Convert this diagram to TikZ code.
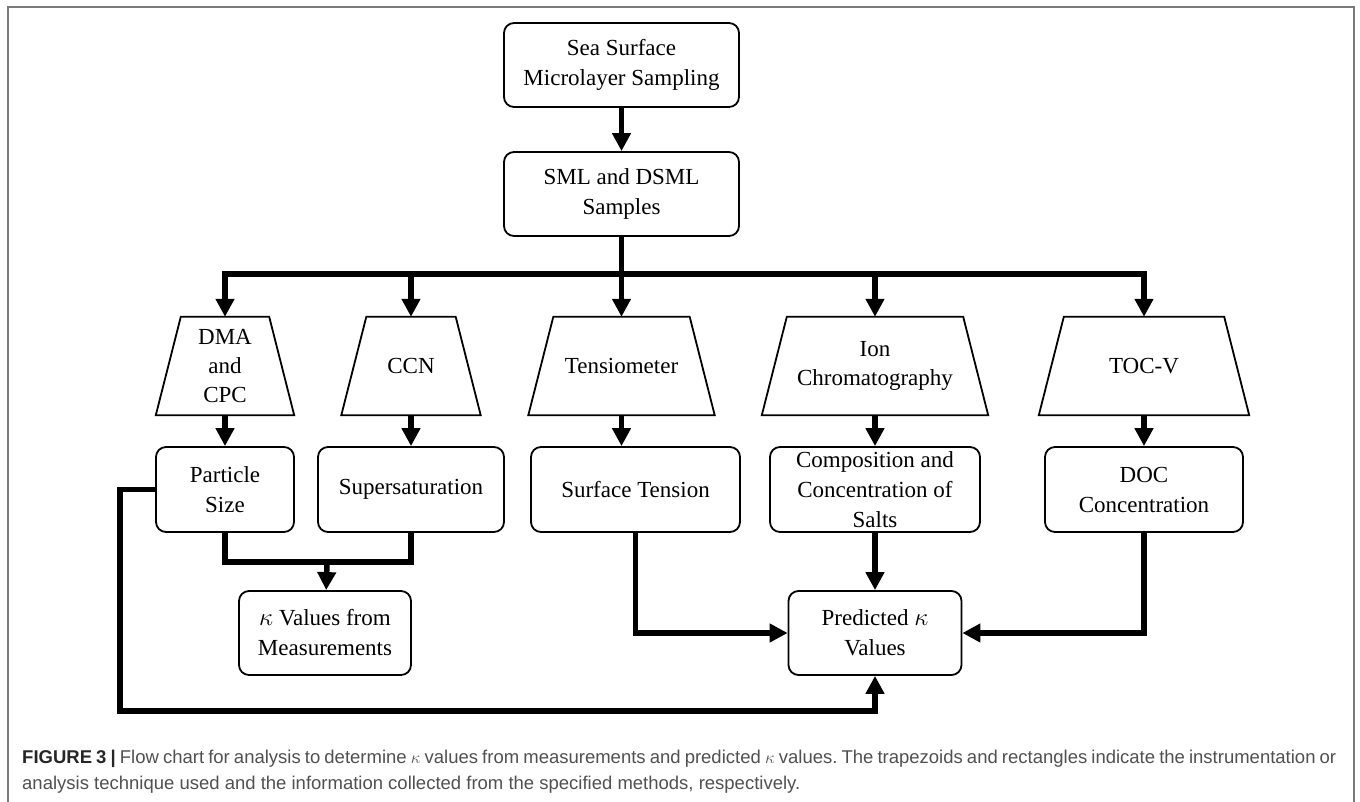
\documentclass[tikz,border=0pt]{standalone}
\usepackage{fontspec}
\setmainfont{Liberation Serif}
\newfontfamily\capfont{Liberation Sans}
\usepackage{tikz}
\usetikzlibrary{arrows.meta}
\definecolor{framegray}{HTML}{7A7A7A}
\definecolor{capgray}{HTML}{505050}
\definecolor{capdark}{HTML}{262626}
\tikzset{
	box/.style={draw,rounded corners=10pt,line width=1.8pt,align=center,inner sep=0pt,font=\fontsize{23}{30}\selectfont},
	trap/.style={align=center,inner sep=0pt,minimum height=98pt,font=\fontsize{23}{29}\selectfont},
	flow/.style={line width=5.5pt,-{Triangle[length=18pt,width=18pt]}},
	link/.style={line width=5.5pt}
}

\begin{document}
\begin{tikzpicture}[x=1pt,y=-1pt]
	\useasboundingbox (0,0) rectangle (1360,802);
	\draw[framegray,line width=2pt] (8,805) -- (8,7) -- (1354,7) -- (1354,805);

	\node[box,minimum width=235pt,minimum height=84pt] (sea) at (621.5,65) {Sea Surface\\Microlayer Sampling};
	\node[box,minimum width=235pt,minimum height=84pt] (sml) at (621.5,194) {SML and DSML\\Samples};
	\coordinate (bus) at (621.5,274);

	\node[trap,minimum width=138pt] (dma) at (225,366) {DMA\\and\\CPC};
	\node[trap,minimum width=139pt] (ccn) at (411,366) {CCN};
	\node[trap,minimum width=186pt] (tens) at (621.5,366) {Tensiometer};
	\node[trap,minimum width=226pt] (ion) at (875,366) {Ion\\Chromatography};
	\node[trap,minimum width=210pt] (toc) at (1144,366) {TOC-V};
	\foreach \n in {dma,ccn,tens,ion,toc}
		\draw[line width=1.8pt] (\n.south west) -- ([xshift=25pt]\n.north west) -- ([xshift=-25pt]\n.north east) -- (\n.south east) -- cycle;

	\node[box,minimum width=138pt,minimum height=85pt] (psize) at (225,489.5) {Particle\\Size};
	\node[box,minimum width=186pt,minimum height=85pt] (super) at (411,489.5) {Supersaturation};
	\node[box,minimum width=209pt,minimum height=85pt] (surf) at (635.5,489.5) {Surface Tension};
	\node[box,minimum width=210pt,minimum height=85pt] (comp) at (875,489.5) {Composition and\\Concentration of\\Salts};
	\node[box,minimum width=198pt,minimum height=85pt] (doc) at (1144,489.5) {DOC\\Concentration};

	\coordinate (merge) at (327,562);
	\node[box,minimum width=172pt,minimum height=84pt] (kmeas) at (325,633) {$\kappa$ Values from\\Measurements};
	\node[box,minimum width=173pt,minimum height=84pt] (pred) at (875,633) {Predicted $\kappa$\\Values};
	\coordinate (fb) at (120,711);

	\draw[flow] (sea) -- (sml);
	\draw[link] (sml) -- (bus);
	\draw[link] (dma.north |- bus) -- (toc.north |- bus);
	\draw[flow] (bus) -| (dma);
	\draw[flow] (bus) -| (ccn);
	\draw[flow] (bus) -- (tens);
	\draw[flow] (bus) -| (ion);
	\draw[flow] (bus) -| (toc);

	\draw[flow] (dma) -- (psize);
	\draw[flow] (ccn) -- (super);
	\draw[flow] (tens.south) -- (tens.south |- surf.north);
	\draw[flow] (ion) -- (comp);
	\draw[flow] (toc) -- (doc);

	\draw[link] (psize) |- (merge) -| (super);
	\draw[flow] (merge) -- (kmeas);
	\draw[flow] (surf) |- (pred);
	\draw[flow] (comp) -- (pred);
	\draw[flow] (doc) |- (pred);
	\draw[flow] (psize.west) -| (fb) -| (pred);

	\begin{scope}[font=\capfont\fontsize{18.5}{24}\selectfont\frenchspacing,text=capgray]
	\node[anchor=base west,inner sep=0pt] (cap1) at (22,763) {\makebox[1314pt][s]{\textcolor{capdark}{\bfseries FIGURE 3 |} Flow chart for analysis to determine $\kappa$ values from measurements and predicted $\kappa$ values. The trapezoids and rectangles indicate the instrumentation or}};
	\node[anchor=base west,inner sep=0pt] (cap2) at (22,789) {analysis technique used and the information collected from the specified methods, respectively.};
	\end{scope}
\end{tikzpicture}
\end{document}
